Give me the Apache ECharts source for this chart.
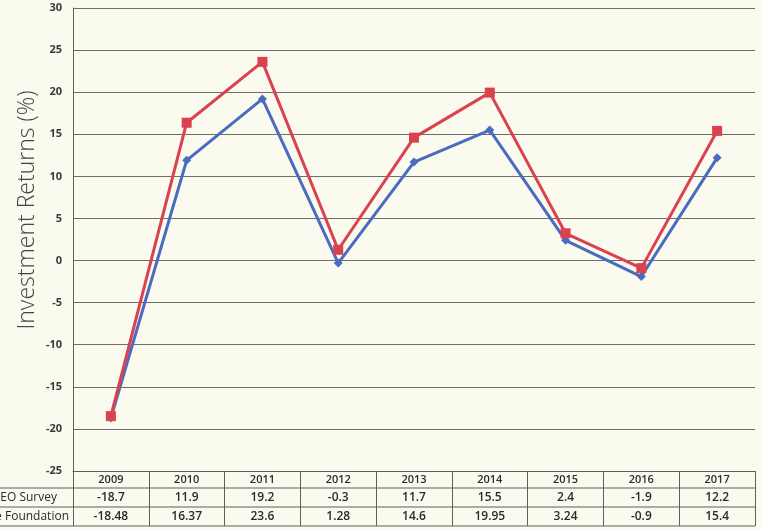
<!DOCTYPE html>
<html>
<head>
<meta charset="utf-8">
<script src="https://cdn.jsdelivr.net/npm/echarts@6/dist/echarts.min.js"></script>
<style>
  html, body { margin: 0; padding: 0; background: #fbfaef; }
  #chart { width: 762px; height: 529px; }
</style>
</head>
<body>
<div id="chart"></div>
<script>
// Annual investment returns (%), survey average vs. the foundation
const years = ['2009', '2010', '2011', '2012', '2013', '2014', '2015', '2016', '2017'];
const surveyReturns = [-18.7, 11.9, 19.2, -0.3, 11.7, 15.5, 2.4, -1.9, 12.2];
const foundationReturns = [-18.48, 16.37, 23.6, 1.28, 14.6, 19.95, 3.24, -0.9, 15.4];
const seriesNames = ['CEO Survey', 'The Foundation'];
const yTicks = { min: -25, max: 30, step: 5 };

const chart = echarts.init(document.getElementById('chart'));

const lineGrey = '#5f5f5a';
const textDark = '#2b2b2b';

chart.setOption({
  backgroundColor: '#fbfaef',
  animation: false,
  grid: { left: 73, right: 7, top: 8, bottom: 58 },
  xAxis: {
    type: 'category',
    data: years,
    boundaryGap: true,
    axisLine: { show: true, onZero: false, lineStyle: { color: lineGrey, width: 1 } },
    axisTick: { show: true, length: 55, lineStyle: { color: lineGrey, width: 1 } },
    axisLabel: {
      margin: 0,
      interval: 0,
      formatter: function (value, idx) {
        return '{y|' + value + '}\n{a|' + surveyReturns[idx] + '}\n{b|' + foundationReturns[idx] + '}';
      },
      rich: {
        y: { fontFamily: 'Open Sans', fontSize: 11, fontWeight: 600, color: textDark, height: 17, lineHeight: 17, padding: [1, 0, 0, 0] },
        a: { fontFamily: 'Open Sans', fontSize: 12, fontWeight: 600, color: textDark, height: 19, lineHeight: 19 },
        b: { fontFamily: 'Open Sans', fontSize: 12, fontWeight: 600, color: textDark, height: 19, lineHeight: 19 }
      }
    }
  },
  yAxis: {
    type: 'value',
    min: yTicks.min,
    max: yTicks.max,
    interval: yTicks.step,
    axisLine: { show: true, lineStyle: { color: lineGrey, width: 1 } },
    axisTick: { show: false },
    axisLabel: {
      margin: 11,
      fontFamily: 'Open Sans',
      fontSize: 11,
      fontWeight: 700,
      color: '#3a3a3a'
    },
    splitLine: { show: true, lineStyle: { color: '#6e6e68', width: 1 } }
  },
  series: [
    {
      name: seriesNames[0],
      type: 'line',
      data: surveyReturns,
      symbol: 'diamond',
      symbolSize: 9,
      lineStyle: { color: '#4a6cc0', width: 3 },
      itemStyle: { color: '#4a6cc0' },
      z: 3
    },
    {
      name: seriesNames[1],
      type: 'line',
      data: foundationReturns,
      symbol: 'rect',
      symbolSize: 10,
      lineStyle: { color: '#d9424e', width: 3 },
      itemStyle: { color: '#d9424e' },
      z: 4
    }
  ],
  graphic: [
    // axis title, reading bottom to top
    {
      type: 'text',
      x: 27,
      y: 210,
      rotation: Math.PI / 2,
      style: {
        text: 'Investment Returns (%)',
        fontFamily: 'Open Sans',
        fontSize: 23,
        fontWeight: 300,
        fill: '#444444',
        align: 'center',
        verticalAlign: 'middle'
      }
    },
    // table row rules
    { type: 'line', shape: { x1: 0, y1: 488, x2: 755, y2: 488 }, style: { stroke: lineGrey, lineWidth: 1 } },
    { type: 'line', shape: { x1: 0, y1: 507, x2: 755, y2: 507 }, style: { stroke: lineGrey, lineWidth: 1 } },
    { type: 'line', shape: { x1: 0, y1: 526, x2: 755, y2: 526 }, style: { stroke: lineGrey, lineWidth: 1 } },
    // row headers
    {
      type: 'text', x: 57, y: 497.5,
      style: { text: seriesNames[0], fontFamily: 'Open Sans', fontSize: 12, fill: textDark, verticalAlign: 'middle', align: 'right' }
    },
    {
      type: 'text', x: 69, y: 516.5,
      style: { text: seriesNames[1], fontFamily: 'Open Sans', fontSize: 12, fill: textDark, verticalAlign: 'middle', align: 'right' }
    }
  ]
});
</script>
</body>
</html>
